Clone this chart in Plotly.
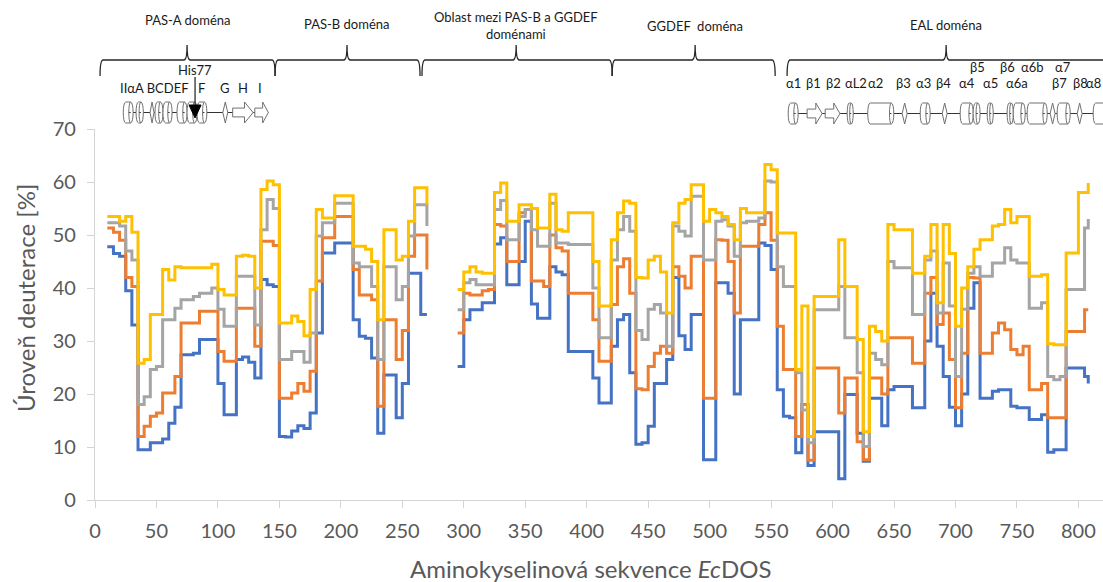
import plotly.graph_objects as go

# ---------------------------------------------------------------------------
# Deuterium uptake along the EcDOS sequence (four labelling times)
# Residue numbers of the two covered stretches
RES_A = list(range(10, 275, 5))            # 10 ... 270
RES_B = list(range(295, 810, 5)) + [808]   # 295 ... 805, 808

# series 1 (blue)
T1_A = [47.8, 46.5, 46, 39.5, 33, 9.5, 9.5, 10.8, 10.8, 11.5,
        14.5, 17.5, 27.4, 27.4, 27.7, 30.3, 30.3, 30.3, 22, 16.1,
        16.1, 26.5, 27, 26, 23, 41.6, 40.6, 40.3, 12, 11.9,
        13, 14, 13.5, 16.4, 31.5, 46.6, 46.6, 48.5, 48.5, 48.5,
        34, 30.9, 30.5, 26.8, 12.6, 23.6, 23.6, 15.5, 22, 42.8,
        42.8, 35, 35]
T1_B = [25.2, 34, 35.9, 35.9, 37.2, 37.2, 48.3, 49.5, 40.6, 40.6,
        45, 52.6, 37, 34.3, 34.3, 44, 43, 42.5, 28, 28,
        28, 28, 23, 18.3, 18.3, 29, 34, 35, 24, 10.5,
        10.8, 13.9, 22, 22, 26.5, 42, 31, 28.4, 35, 35,
        7.6, 7.6, 41, 41, 39, 20, 34, 34, 34, 48.5,
        48, 43.5, 20.8, 15.8, 15.5, 8.9, 18, 6.5, 12.9, 12.9,
        12.9, 12.9, 4, 19.9, 19.9, 12.6, 7.3, 19.2, 19.2, 14,
        20.8, 21.4, 21.4, 21.4, 17.4, 17.4, 30, 39, 29, 23.3,
        17.5, 14, 20, 36.2, 41, 19.2, 19.2, 20.5, 20.8, 20.8,
        17.7, 17.4, 17.4, 15.2, 15.2, 16.1, 9, 9.5, 9.5, 24.9,
        24.9, 24.9, 23.3,
        22]

# series 2 (orange)
T2_A = [51.3, 50.5, 49, 42, 40.3, 12, 13.9, 15.8, 16.4, 20.2,
        20.2, 23.3, 33.4, 33.4, 33.4, 35.6, 35.6, 35.6, 28, 26.2,
        26.2, 36.2, 36.2, 36.2, 29, 48.8, 48.8, 48, 19.2, 19.2,
        20.2, 22, 20.5, 24.3, 41.3, 49.5, 49.5, 53.5, 53.5, 53.5,
        43.5, 38.7, 38.7, 37.8, 17.7, 34, 34, 26.5, 32, 46,
        50, 50, 43.5]
T2_B = [31.5, 39, 38.7, 38.7, 39.5, 39.7, 52, 51.7, 45, 45,
        54.2, 54.8, 41.3, 41.3, 40.3, 50, 47.6, 47, 39, 39,
        39, 39, 34, 26.2, 26.2, 36.9, 44, 45.5, 39, 21,
        20.8, 25.2, 27.7, 29, 27.7, 44, 42.2, 40, 46, 46,
        19.2, 19.2, 49.1, 49, 45, 35.3, 47.9, 47.9, 47.9, 52,
        54.2, 49, 32.8, 24.6, 24.6, 12, 18, 7.5, 24.9, 24.9,
        24.9, 24.9, 16.4, 23, 23, 11, 7.6, 23, 23, 20,
        30.6, 30.6, 30.6, 30.6, 25.8, 25.8, 39, 42, 33.1, 35.3,
        26.5, 17.4, 27.7, 42, 41.9, 27.7, 27.7, 31.5, 33.4, 32.1,
        28.4, 27.4, 29, 20.8, 20.8, 22, 15.5, 15.5, 15.5, 31.8,
        31.8, 31.8, 35.9,
        35.9]

# series 3 (grey)
T3_A = [52.3, 52.3, 51.7, 47, 45.3, 18, 19.5, 24.6, 25.2, 34,
        34, 36.2, 37.8, 37.8, 38.4, 39, 39, 40, 36, 32.8,
        32.8, 42.2, 42.2, 42.2, 33, 51, 56.7, 55, 26.5, 26.5,
        28, 28, 26, 31.5, 49.8, 52.3, 52.3, 56, 56, 56,
        44.7, 44, 44, 40.3, 26.5, 44, 44, 37.8, 40.3, 49.8,
        55.7, 55.7, 51.7]
T3_B = [35.9, 41, 41.6, 40.6, 40.6, 40.6, 54.8, 56.5, 49.1, 49.1,
        53.5, 54.8, 51, 47.9, 47.9, 56, 48.5, 48.5, 48.2, 48.2,
        48.2, 48.2, 40, 30.6, 30.6, 45.3, 51, 53.5, 50.7, 32,
        30.3, 36, 36.9, 35.3, 29, 51.7, 50.7, 49.8, 57.3, 57.3,
        45.3, 45.3, 52.6, 52.9, 51.7, 46, 52.3, 52.6, 52.6, 53.2,
        60.2, 60, 44, 40.3, 40.3, 24, 17, 10.8, 35.9, 35.9,
        35.9, 35.9, 40.3, 30.6, 30.6, 24, 10.1, 27.7, 26.5, 25.5,
        45, 43.8, 43.8, 43.8, 35, 35, 45.3, 47, 35.3, 44.7,
        36.6, 23.3, 36, 42.8, 44, 42.2, 42.2, 44.7, 44.7, 47.6,
        45.3, 44.7, 44.7, 36.2, 36.2, 37.2, 23.3, 22.7, 23.3, 39.7,
        39.7, 39.7, 51.3,
        53]

# series 4 (yellow)
T4_A = [53.5, 53.5, 52.6, 53.5, 50.5, 25.8, 26.5, 35, 35, 43.5,
        41.5, 44, 43.8, 43.8, 43.8, 43.8, 43.8, 44.5, 39.7, 38.7,
        38.7, 46, 46.2, 46, 40, 58.6, 60.2, 59.5, 33.4, 33.4,
        34.7, 33.7, 31, 39.7, 54.8, 53.2, 53.2, 57.4, 57.4, 57.4,
        47.9, 47.9, 47.3, 45, 34, 51, 51, 45.3, 46, 52.6,
        58.9, 58.9, 55.7]
T4_B = [39.7, 43, 44, 43, 42.8, 42.8, 58, 59.8, 52.6, 52.6,
        55.7, 55.7, 55, 51.3, 51.3, 57.7, 51, 50.7, 54.2, 54.2,
        54.2, 54.2, 45, 36.6, 36.6, 49.1, 54.2, 56.4, 56, 42,
        41.9, 45.3, 46, 43, 35.3, 52.3, 56, 56.7, 59.5, 59.5,
        52.6, 54.8, 54.2, 53.5, 52, 49.1, 55, 54.2, 54.2, 54.2,
        63.3, 62.3, 50.4, 50.4, 50.4, 24.6, 36.6, 12, 38.4, 38.4,
        38.4, 38.4, 49.1, 40.3, 40.3, 30.3, 12.9, 32.8, 31.8, 30,
        52, 51, 51, 51, 42.8, 42.8, 46, 52, 37.2, 52,
        46.5, 32.8, 40, 44, 47.3, 49.1, 49.1, 51.7, 52, 54.8,
        52.3, 53.5, 53.5, 42.2, 42.2, 42.5, 29.5, 29.3, 29.3, 46.6,
        46.6, 58, 58,
        59.8]

SERIES = [(T1_A, T1_B, "#4472C4"), (T2_A, T2_B, "#ED7D31"),
          (T3_A, T3_B, "#A5A5A5"), (T4_A, T4_B, "#FFC000")]

# Domains: (label, start, end, brace tip, label row in px from top)
DOMAINS = [
    ("PAS-A doména", 4.1, 146.5, 74.9, 20),
    ("PAS-B doména", 146.5, 264.4, 205.0, 24),
    ("Oblast mezi PAS-B a GGDEF<br>doménami", 266.0, 420.7, 342.6, 26),
    ("GGDEF\u00a0 doména", 420.7, 553.3, 488.2, 26),
    ("EAL doména", 563.0, 840.0, 692.4, 25),
]

# Secondary-structure cartoons: (kind, first residue, last residue)
PAS_A_SS = [("h", 23, 31), ("h", 33.4, 39.3), ("s", 44.8, 48), ("h", 48.8, 55.3),
            ("h", 55.3, 62.7), ("h", 66.7, 74.9), ("h", 74.9, 83), ("h", 83, 91),
            ("s", 104, 108), ("a", 112, 128.6), ("a", 130, 141)]
EAL_SS = [("h", 563.9, 572), ("a", 579.3, 591.5), ("a", 594, 606), ("h", 611.9, 616.8),
          ("h", 628.6, 649.8), ("s", 656.6, 660.7), ("h", 671.3, 679.4), ("s", 689.2, 693.2),
          ("h", 703.8, 714.4), ("h", 714.4, 720), ("h", 725.8, 730.7), ("h", 742, 747),
          ("h", 747, 756.7), ("h", 758.3, 774.6), ("s", 777, 781), ("h", 782.7, 793.3),
          ("s", 799, 803), ("h", 812, 828)]

# Secondary-structure labels: (text, residue, row)
PAS_A_LABELS = [("IIαA BCDEF", 48.5, 88), ("F", 86.5, 88), ("G", 105.8, 88),
                ("H", 120.4, 88), ("I", 134.3, 88), ("His77", 81.4, 70)]
EAL_LABELS = [("α1", 568), ("β1", 584.4), ("β2", 600.5), ("αL2", 619.2), ("α2", 634.7),
              ("β3", 657.4), ("α3", 673.7), ("β4", 690), ("α4", 709.5), ("α5", 728.2),
              ("α6a", 750.2), ("β7", 784.4), ("β8", 801.5)]
EAL_LABELS_UP = [("β5", 717.6), ("β6", 742), ("α6b", 762.4), ("α7", 787.6)]
EAL_LAST_LABEL = "α8"

# ---------------------------------------------------------------------------
W, H = 1103, 582
M_L, M_R, M_T, M_B = 95, 0, 129, 82
PLOT_H = H - M_T - M_B
X_MAX = 820


def yp(py):
    """Vertical pixel position (from the top of the figure) -> paper y."""
    return (H - M_B - py) / PLOT_H


fig = go.Figure()
for a, b, color in SERIES:
    fig.add_trace(go.Scatter(
        x=RES_A + [282] + RES_B,
        y=a + [None] + b,
        mode="lines",
        line=dict(color=color, width=3, shape="hv"),
        connectgaps=False,
        hoverinfo="skip",
        showlegend=False,
    ))

shapes = []
annotations = []
TXT = dict(family="Lato", size=13, color="#1a1a1a")

# domain braces and titles
for label, x0, x1, xt, ty in DOMAINS:
    yl, ye, yt = yp(60), yp(76), yp(45)
    c = 2.5
    path = (f"M {x0},{ye} Q {x0},{yl} {x0 + c},{yl} L {xt - c},{yl} "
            f"Q {xt},{yl} {xt},{yt} Q {xt},{yl} {xt + c},{yl} "
            f"L {x1 - c},{yl} Q {x1},{yl} {x1},{ye}")
    shapes.append(dict(type="path", path=path, xref="x", yref="paper",
                       line=dict(color="#262626", width=1.3)))
    annotations.append(dict(text=label, x=xt, y=yp(ty),
                            xref="x", yref="paper", showarrow=False,
                            xanchor="center", yanchor="middle", font=TXT))


def cartoon(elements, yc_px, hh_px):
    yc, top, bot = yp(yc_px), yp(yc_px - hh_px), yp(yc_px + hh_px)
    out = [dict(type="line", x0=elements[0][1], x1=elements[-1][2], y0=yc, y1=yc,
                xref="x", yref="paper", line=dict(color="#333333", width=1.2))]
    style = dict(xref="x", yref="paper", fillcolor="white",
                 line=dict(color="#707070", width=1))
    for kind, x0, x1 in elements:
        if kind == "h":
            w = min(2.0, (x1 - x0) / 3)
            k = w / 3
            p = (f"M {x0 + w},{top} L {x1 - w},{top} C {x1 + k},{top} {x1 + k},{bot} {x1 - w},{bot} "
                 f"L {x0 + w},{bot} C {x0 - k},{bot} {x0 - k},{top} {x0 + w},{top} Z "
                 f"M {x1 - w},{top} C {x1 - 2 * w},{top} {x1 - 2 * w},{bot} {x1 - w},{bot}")
            out.append(dict(type="path", path=p, **style))
        elif kind == "a":
            bh = (top - yc) * 0.42
            xa = x1 - (x1 - x0) * 0.42
            p = (f"M {x0},{yc + bh} L {xa},{yc + bh} L {xa},{top} L {x1},{yc} "
                 f"L {xa},{bot} L {xa},{yc - bh} L {x0},{yc - bh} Z")
            out.append(dict(type="path", path=p, **style))
        else:
            xm = (x0 + x1) / 2
            p = f"M {xm},{top} L {x1},{yc} L {xm},{bot} L {x0},{yc} Z"
            out.append(dict(type="path", path=p, **style))
    return out


shapes += cartoon(PAS_A_SS, 112.5, 10.5)
shapes += cartoon(EAL_SS, 113.5, 10.5)

# His77 marker
shapes.append(dict(type="line", x0=81.4, x1=81.4, y0=yp(77), y1=yp(106),
                   xref="x", yref="paper", line=dict(color="#1a1a1a", width=1.2)))
shapes.append(dict(type="path", xref="x", yref="paper", fillcolor="black",
                   line=dict(color="black", width=1),
                   path=f"M 76.5,{yp(105)} L 86.3,{yp(105)} L 81.4,{yp(118)} Z"))

for text, x, row in PAS_A_LABELS:
    annotations.append(dict(text=text, x=x, y=yp(row), xref="x", yref="paper",
                            showarrow=False, xanchor="center", yanchor="middle", font=TXT))
for text, x in EAL_LABELS:
    annotations.append(dict(text=text, x=x, y=yp(83), xref="x", yref="paper",
                            showarrow=False, xanchor="center", yanchor="middle", font=TXT))
for text, x in EAL_LABELS_UP:
    annotations.append(dict(text=text, x=x, y=yp(67), xref="x", yref="paper",
                            showarrow=False, xanchor="center", yanchor="middle", font=TXT))
# last helix label sits against the right edge
annotations.append(dict(text=EAL_LAST_LABEL, x=X_MAX, y=yp(83), xref="x", yref="paper",
                        showarrow=False, xanchor="right", yanchor="middle", font=TXT))

# axis titles
annotations.append(dict(text="Úroveň deuterace [%]", x=(25 - M_L) / (W - M_L - M_R), y=yp(298),
                        xref="paper", yref="paper", textangle=-90, showarrow=False,
                        xanchor="center", yanchor="middle",
                        font=dict(family="Lato", size=24, color="#595959")))
annotations.append(dict(text="Aminokyselinová sekvence <i>Ec</i>DOS", x=403.6, y=yp(568),
                        xref="x", yref="paper", showarrow=False,
                        xanchor="center", yanchor="middle",
                        font=dict(family="Lato", size=24, color="#595959")))

AXIS = dict(showgrid=False, zeroline=False, showline=True, linecolor="#D4D4D4", linewidth=1.3,
            ticks="outside", ticklen=7, tickcolor="#D4D4D4", tickwidth=1.3,
            tickfont=dict(family="Lato", size=20, color="#595959"))

fig.update_layout(
    width=W, height=H,
    margin=dict(l=M_L, r=M_R, t=M_T, b=M_B),
    paper_bgcolor="white", plot_bgcolor="white",
    xaxis=dict(range=[0, X_MAX], tickvals=list(range(0, 801, 50)),
               ticklabelstandoff=6, **AXIS),
    yaxis=dict(range=[0, 70], tickvals=list(range(0, 71, 10)),
               ticklabelstandoff=7, **AXIS),
    shapes=shapes, annotations=annotations,
    hovermode=False,
)

fig.write_html("out.html")
